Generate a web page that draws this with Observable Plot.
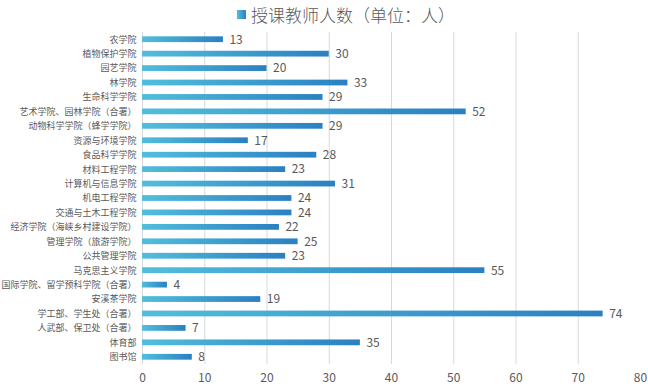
<!DOCTYPE html>
<html>
<head>
<meta charset="utf-8">
<script src="https://cdn.jsdelivr.net/npm/d3@7"></script>
<script src="https://cdn.jsdelivr.net/npm/@observablehq/plot@0.6"></script>
<style>
  html, body { margin: 0; padding: 0; background: #fff; }
  body { width: 648px; height: 388px; overflow: hidden; font-family: "Noto Sans CJK SC", "Noto Sans", sans-serif; }
  #legend { height: 28px; display: flex; align-items: center; justify-content: flex-start; padding-left: 237px; box-sizing: border-box; color: #595959; font-size: 17px; font-weight: 300; }
  #legend .sw { width: 9px; height: 9px; background: linear-gradient(to right, #52bedb, #2a82c3); margin-right: 5px; margin-top: 1px; }
</style>
</head>
<body>
<div id="legend"><span class="sw"></span><span>授课教师人数（单位：人）</span></div>
<div id="chart"></div>
<script>
const categories = ["农学院","植物保护学院","园艺学院","林学院","生命科学学院","艺术学院、园林学院（合署）","动物科学学院（蜂学学院）","资源与环境学院","食品科学学院","材料工程学院","计算机与信息学院","机电工程学院","交通与土木工程学院","经济学院（海峡乡村建设学院）","管理学院（旅游学院）","公共管理学院","马克思主义学院","国际学院、留学预科学院（合署）","安溪茶学院","学工部、学生处（合署）","人武部、保卫处（合署）","体育部","图书馆"];
const values = [13,30,20,33,29,52,29,17,28,23,31,24,24,22,25,23,55,4,19,74,7,35,8];
const xTicks = [0,10,20,30,40,50,60,70,80];
const gridTicks = [0,10,20,30,40,50,60,70];

const data = categories.map((c, i) => ({name: c, value: values[i]}));

const chart = Plot.plot({
  width: 648,
  height: 360,
  marginLeft: 142,
  marginRight: 8,
  marginTop: 4,
  marginBottom: 24,
  style: {fontFamily: '"Noto Sans CJK SC", "Noto Sans", sans-serif', color: "#595959", background: "#fff"},
  x: {domain: [0, 80], ticks: xTicks, label: null},
  y: {domain: categories, paddingInner: 0.6, paddingOuter: 0.3, round: false, label: null},
  marks: [
    Plot.ruleX(gridTicks, {stroke: "#d9d9d9", strokeWidth: 1}),
    Plot.barX(data, {x: "value", y: "name", fill: "url(#barGrad)"}),
    Plot.text(data, {x: "value", y: "name", text: d => String(d.value), textAnchor: "start", dx: 6, fill: "#595959", fontSize: 12}),
    Plot.axisX({ticks: xTicks, tickSize: 0, tickPadding: 9, fontSize: 12, fill: "#595959", label: null}),
    Plot.axisY({tickSize: 0, tickPadding: 6, fontSize: 9, fill: "#595959", label: null})
  ]
});

d3.select(chart).insert("defs", ":first-child").html(
  '<linearGradient id="barGrad" x1="0" y1="0" x2="1" y2="0">' +
  '<stop offset="0" stop-color="#52bedb"/>' +
  '<stop offset="1" stop-color="#2a80c2"/>' +
  '</linearGradient>'
);
document.getElementById("chart").appendChild(chart);
</script>
</body>
</html>
